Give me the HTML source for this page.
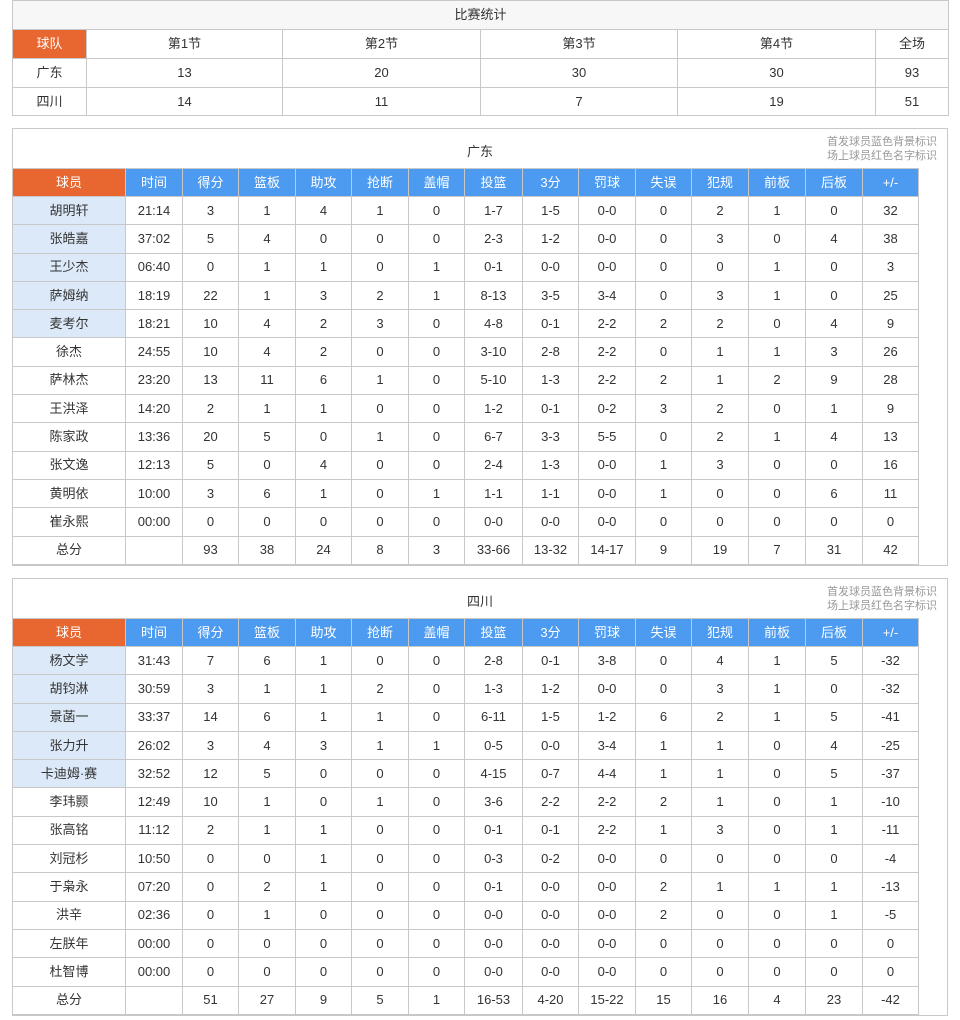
<!DOCTYPE html>
<html><head><meta charset="utf-8"><style>
*{margin:0;padding:0;box-sizing:border-box}
body{width:960px;height:1020px;background:#fff;font-family:"Liberation Sans","Noto Sans CJK SC",sans-serif;font-size:13px;color:#333;position:relative;overflow:hidden}
table{border-collapse:collapse;table-layout:fixed;position:absolute}
td{border:1px solid #c8c8c8;text-align:center;vertical-align:middle;padding:0;white-space:nowrap;line-height:14px}
tr.r{height:28.3px}
.box{position:absolute;left:12px;width:936px;border:1px solid #c8c8c8;background:#fff}
.ttl{position:absolute;left:0;width:100%;text-align:center;font-size:13px}
.note{position:absolute;right:10px;top:6px;font-size:11px;color:#999;text-align:right;line-height:14px}
.o{background:#e8662f;color:#fff}
.b{background:#4d9bf0;color:#fff}
.s{background:#dce9f8}
</style></head><body>
<table style="left:12px;top:0;width:936px">
<colgroup><col style="width:74px"><col style="width:196px"><col style="width:198px"><col style="width:197px"><col style="width:198px"><col style="width:73px"></colgroup>
<tr style="height:29px;background:#f7f7f7"><td colspan="6">比赛统计</td></tr>
<tr style="height:29px"><td class="o">球队</td><td>第1节</td><td>第2节</td><td>第3节</td><td>第4节</td><td>全场</td></tr>
<tr style="height:29px"><td>广东</td><td>13</td><td>20</td><td>30</td><td>30</td><td>93</td></tr>
<tr style="height:28px"><td>四川</td><td>14</td><td>11</td><td>7</td><td>19</td><td>51</td></tr>
</table>

<div class="box" style="top:128px;height:438px"><div class="ttl" style="top:12px">广东</div><div class="note">首发球员蓝色背景标识<br>场上球员红色名字标识</div></div>
<div class="box" style="top:578px;height:438px"><div class="ttl" style="top:12px">四川</div><div class="note">首发球员蓝色背景标识<br>场上球员红色名字标识</div></div>

<table style="left:12px;top:168px;width:906px">
<colgroup><col style="width:113px"><col style="width:57px"><col style="width:56px"><col style="width:57px"><col style="width:56px"><col style="width:57px"><col style="width:56px"><col style="width:58px"><col style="width:56px"><col style="width:57px"><col style="width:56px"><col style="width:57px"><col style="width:57px"><col style="width:57px"><col style="width:56px"></colgroup>
<tr style="height:28px"><td class="o">球员</td><td class="b">时间</td><td class="b">得分</td><td class="b">篮板</td><td class="b">助攻</td><td class="b">抢断</td><td class="b">盖帽</td><td class="b">投篮</td><td class="b">3分</td><td class="b">罚球</td><td class="b">失误</td><td class="b">犯规</td><td class="b">前板</td><td class="b">后板</td><td class="b">+/-</td></tr>
<tr class="r"><td class="s">胡明轩</td><td>21:14</td><td>3</td><td>1</td><td>4</td><td>1</td><td>0</td><td>1-7</td><td>1-5</td><td>0-0</td><td>0</td><td>2</td><td>1</td><td>0</td><td>32</td></tr>
<tr class="r"><td class="s">张皓嘉</td><td>37:02</td><td>5</td><td>4</td><td>0</td><td>0</td><td>0</td><td>2-3</td><td>1-2</td><td>0-0</td><td>0</td><td>3</td><td>0</td><td>4</td><td>38</td></tr>
<tr class="r"><td class="s">王少杰</td><td>06:40</td><td>0</td><td>1</td><td>1</td><td>0</td><td>1</td><td>0-1</td><td>0-0</td><td>0-0</td><td>0</td><td>0</td><td>1</td><td>0</td><td>3</td></tr>
<tr class="r"><td class="s">萨姆纳</td><td>18:19</td><td>22</td><td>1</td><td>3</td><td>2</td><td>1</td><td>8-13</td><td>3-5</td><td>3-4</td><td>0</td><td>3</td><td>1</td><td>0</td><td>25</td></tr>
<tr class="r"><td class="s">麦考尔</td><td>18:21</td><td>10</td><td>4</td><td>2</td><td>3</td><td>0</td><td>4-8</td><td>0-1</td><td>2-2</td><td>2</td><td>2</td><td>0</td><td>4</td><td>9</td></tr>
<tr class="r"><td>徐杰</td><td>24:55</td><td>10</td><td>4</td><td>2</td><td>0</td><td>0</td><td>3-10</td><td>2-8</td><td>2-2</td><td>0</td><td>1</td><td>1</td><td>3</td><td>26</td></tr>
<tr class="r"><td>萨林杰</td><td>23:20</td><td>13</td><td>11</td><td>6</td><td>1</td><td>0</td><td>5-10</td><td>1-3</td><td>2-2</td><td>2</td><td>1</td><td>2</td><td>9</td><td>28</td></tr>
<tr class="r"><td>王洪泽</td><td>14:20</td><td>2</td><td>1</td><td>1</td><td>0</td><td>0</td><td>1-2</td><td>0-1</td><td>0-2</td><td>3</td><td>2</td><td>0</td><td>1</td><td>9</td></tr>
<tr class="r"><td>陈家政</td><td>13:36</td><td>20</td><td>5</td><td>0</td><td>1</td><td>0</td><td>6-7</td><td>3-3</td><td>5-5</td><td>0</td><td>2</td><td>1</td><td>4</td><td>13</td></tr>
<tr class="r"><td>张文逸</td><td>12:13</td><td>5</td><td>0</td><td>4</td><td>0</td><td>0</td><td>2-4</td><td>1-3</td><td>0-0</td><td>1</td><td>3</td><td>0</td><td>0</td><td>16</td></tr>
<tr class="r"><td>黄明依</td><td>10:00</td><td>3</td><td>6</td><td>1</td><td>0</td><td>1</td><td>1-1</td><td>1-1</td><td>0-0</td><td>1</td><td>0</td><td>0</td><td>6</td><td>11</td></tr>
<tr class="r"><td>崔永熙</td><td>00:00</td><td>0</td><td>0</td><td>0</td><td>0</td><td>0</td><td>0-0</td><td>0-0</td><td>0-0</td><td>0</td><td>0</td><td>0</td><td>0</td><td>0</td></tr>
<tr class="r"><td>总分</td><td></td><td>93</td><td>38</td><td>24</td><td>8</td><td>3</td><td>33-66</td><td>13-32</td><td>14-17</td><td>9</td><td>19</td><td>7</td><td>31</td><td>42</td></tr>
</table>

<table style="left:12px;top:618px;width:906px">
<colgroup><col style="width:113px"><col style="width:57px"><col style="width:56px"><col style="width:57px"><col style="width:56px"><col style="width:57px"><col style="width:56px"><col style="width:58px"><col style="width:56px"><col style="width:57px"><col style="width:56px"><col style="width:57px"><col style="width:57px"><col style="width:57px"><col style="width:56px"></colgroup>
<tr style="height:28px"><td class="o">球员</td><td class="b">时间</td><td class="b">得分</td><td class="b">篮板</td><td class="b">助攻</td><td class="b">抢断</td><td class="b">盖帽</td><td class="b">投篮</td><td class="b">3分</td><td class="b">罚球</td><td class="b">失误</td><td class="b">犯规</td><td class="b">前板</td><td class="b">后板</td><td class="b">+/-</td></tr>
<tr class="r"><td class="s">杨文学</td><td>31:43</td><td>7</td><td>6</td><td>1</td><td>0</td><td>0</td><td>2-8</td><td>0-1</td><td>3-8</td><td>0</td><td>4</td><td>1</td><td>5</td><td>-32</td></tr>
<tr class="r"><td class="s">胡钧淋</td><td>30:59</td><td>3</td><td>1</td><td>1</td><td>2</td><td>0</td><td>1-3</td><td>1-2</td><td>0-0</td><td>0</td><td>3</td><td>1</td><td>0</td><td>-32</td></tr>
<tr class="r"><td class="s">景菡一</td><td>33:37</td><td>14</td><td>6</td><td>1</td><td>1</td><td>0</td><td>6-11</td><td>1-5</td><td>1-2</td><td>6</td><td>2</td><td>1</td><td>5</td><td>-41</td></tr>
<tr class="r"><td class="s">张力升</td><td>26:02</td><td>3</td><td>4</td><td>3</td><td>1</td><td>1</td><td>0-5</td><td>0-0</td><td>3-4</td><td>1</td><td>1</td><td>0</td><td>4</td><td>-25</td></tr>
<tr class="r"><td class="s">卡迪姆·赛</td><td>32:52</td><td>12</td><td>5</td><td>0</td><td>0</td><td>0</td><td>4-15</td><td>0-7</td><td>4-4</td><td>1</td><td>1</td><td>0</td><td>5</td><td>-37</td></tr>
<tr class="r"><td>李玮颢</td><td>12:49</td><td>10</td><td>1</td><td>0</td><td>1</td><td>0</td><td>3-6</td><td>2-2</td><td>2-2</td><td>2</td><td>1</td><td>0</td><td>1</td><td>-10</td></tr>
<tr class="r"><td>张高铭</td><td>11:12</td><td>2</td><td>1</td><td>1</td><td>0</td><td>0</td><td>0-1</td><td>0-1</td><td>2-2</td><td>1</td><td>3</td><td>0</td><td>1</td><td>-11</td></tr>
<tr class="r"><td>刘冠杉</td><td>10:50</td><td>0</td><td>0</td><td>1</td><td>0</td><td>0</td><td>0-3</td><td>0-2</td><td>0-0</td><td>0</td><td>0</td><td>0</td><td>0</td><td>-4</td></tr>
<tr class="r"><td>于枭永</td><td>07:20</td><td>0</td><td>2</td><td>1</td><td>0</td><td>0</td><td>0-1</td><td>0-0</td><td>0-0</td><td>2</td><td>1</td><td>1</td><td>1</td><td>-13</td></tr>
<tr class="r"><td>洪辛</td><td>02:36</td><td>0</td><td>1</td><td>0</td><td>0</td><td>0</td><td>0-0</td><td>0-0</td><td>0-0</td><td>2</td><td>0</td><td>0</td><td>1</td><td>-5</td></tr>
<tr class="r"><td>左朕年</td><td>00:00</td><td>0</td><td>0</td><td>0</td><td>0</td><td>0</td><td>0-0</td><td>0-0</td><td>0-0</td><td>0</td><td>0</td><td>0</td><td>0</td><td>0</td></tr>
<tr class="r"><td>杜智博</td><td>00:00</td><td>0</td><td>0</td><td>0</td><td>0</td><td>0</td><td>0-0</td><td>0-0</td><td>0-0</td><td>0</td><td>0</td><td>0</td><td>0</td><td>0</td></tr>
<tr class="r"><td>总分</td><td></td><td>51</td><td>27</td><td>9</td><td>5</td><td>1</td><td>16-53</td><td>4-20</td><td>15-22</td><td>15</td><td>16</td><td>4</td><td>23</td><td>-42</td></tr>
</table>
</body></html>
